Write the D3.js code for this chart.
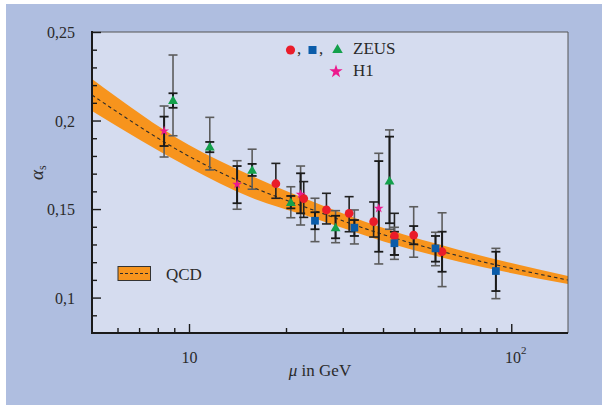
<!DOCTYPE html>
<html><head><meta charset="utf-8">
<script src="https://cdn.jsdelivr.net/npm/d3@7"></script>
<style>
html,body{margin:0;padding:0;background:#fff;}
svg{display:block;}
text{font-family:"Liberation Serif","Times New Roman",serif;fill:#2a2a2a;}
</style></head>
<body>
<svg id="chart" width="602" height="405"></svg>
<script>
// ---- data ----
// rows: [mu, alpha, outerLo, outerHi, innerLo, innerHi]
const zeusCircles = [
  [18.6, 0.1643, 0.1561, 0.1758, null, null],
  [22.7, 0.1559, 0.1453, 0.1655, null, null],
  [26.7, 0.1495, 0.1416, 0.1589, null, null],
  [31.4, 0.1476, 0.1372, 0.1570, null, null],
  [37.4, 0.1429, 0.1342, 0.1540, null, null],
  [43.4, 0.1348, 0.1241, 0.1476, null, null],
  [49.8, 0.1353, 0.1228, 0.1513, 0.1301, 0.1404],
  [61.0, 0.1259, 0.1062, 0.1479, 0.1146, 0.1372]
];
const zeusSquares = [
  [24.6, 0.1434, 0.1316, 0.1561, 0.1386, 0.1482],
  [32.6, 0.1395, 0.1303, 0.1495, 0.1348, 0.1438],
  [43.4, 0.1307, 0.1216, 0.1397, 0.1241, 0.1372],
  [58.2, 0.1278, 0.1180, 0.1369, 0.1203, 0.1348],
  [89.6, 0.1150, 0.0994, 0.1278, 0.1037, 0.1259]
];
const zeusTriangles = [
  [8.92, 0.2110, 0.1914, 0.2370, 0.2072, 0.2154],
  [11.6, 0.1847, 0.1721, 0.2018, 0.1821, 0.1879],
  [15.7, 0.1715, 0.1612, 0.1838, 0.1687, 0.1755],
  [20.7, 0.1533, 0.1451, 0.1626, 0.1504, 0.1574],
  [28.5, 0.1391, 0.1310, 0.1491, 0.1335, 0.1462],
  [41.9, 0.1655, 0.1386, 0.1947, 0.1420, 0.1909]
];
const h1Stars = [
  [8.37, 0.1941, 0.1794, 0.2082, 0.1856, 0.2022],
  [14.1, 0.1640, 0.1499, 0.1773, 0.1533, 0.1743],
  [22.2, 0.1583, 0.1410, 0.1743, 0.1476, 0.1702],
  [38.8, 0.1504, 0.1190, 0.1815, 0.1259, 0.1771]
];
// QCD band
const qcdMu     = [5,      10,     15.45,  22.8,   40.4,   68.9,   150];
const qcdCenter = [0.2144, 0.1798, 0.1630, 0.1513, 0.1354, 0.1235, 0.1099];
const qcdHigh   = [0.2235, 0.1862, 0.1692, 0.1561, 0.1391, 0.1269, 0.1122];
const qcdLow    = [0.2054, 0.1735, 0.1568, 0.1466, 0.1316, 0.1203, 0.1077];
// axes
const yMajorTicks = [0.1, 0.15, 0.2, 0.25];
const yMajorLabels = ["0,1", "0,15", "0,2", "0,25"];
const yMinorTicks = [0.09, 0.11, 0.12, 0.13, 0.14, 0.16, 0.17, 0.18, 0.19, 0.21, 0.22, 0.23, 0.24];
const xMajorTicks = [10, 100];
const xMinorTicks = [6, 7, 8, 9, 20, 30, 40, 50, 60, 70, 80, 90];

// ---- layout ----
const L = 92, T = 32, R = 568, B = 333;
const svg = d3.select("#chart");
const C = {outer:"#afbee0", plot:"#d5dcef", band:"#f7941d", red:"#ea1c2a", blue:"#0b5ca9", green:"#13a04b", pink:"#ec1a8d"};

svg.append("rect").attr("x",6).attr("y",4).attr("width",596).attr("height",401).attr("fill",C.outer);
svg.append("rect").attr("x",L).attr("y",T).attr("width",R-L).attr("height",B-T).attr("fill",C.plot);

const x = d3.scaleLog().domain([5,150]).range([L,R]);
const y = d3.scaleLinear().domain([0.08,0.25]).range([B,T]);

const g = svg.append("g");
// band
const bandData = qcdMu.map((m,i)=>({m, c:qcdCenter[i], hi:qcdHigh[i], lo:qcdLow[i]}));
g.append("path").datum(bandData)
  .attr("d", d3.area().x(d=>x(d.m)).y0(d=>y(d.lo)).y1(d=>y(d.hi)).curve(d3.curveMonotoneX))
  .attr("fill", C.band);
g.append("path").datum(bandData)
  .attr("d", d3.line().x(d=>x(d.m)).y(d=>y(d.c)).curve(d3.curveMonotoneX))
  .attr("fill","none").attr("stroke","#2b2b2b").attr("stroke-width",1.1).attr("stroke-dasharray","3.5,3");

// error bars
function drawErr(data){
  const eg = g.append("g");
  data.forEach(d=>{
    const cx = x(d[0]);
    const capW = 4.5;
    const oc = d[4]==null ? "#222" : "#5c5c5c";
    eg.append("line").attr("x1",cx).attr("x2",cx).attr("y1",y(d[2])).attr("y2",y(d[3]))
      .attr("stroke", oc).attr("stroke-width",1.6);
    [d[2],d[3]].forEach(v=>eg.append("line").attr("x1",cx-capW).attr("x2",cx+capW).attr("y1",y(v)).attr("y2",y(v))
      .attr("stroke", oc).attr("stroke-width",1.6));
    if(d[4]!=null){
      eg.append("line").attr("x1",cx).attr("x2",cx).attr("y1",y(d[4])).attr("y2",y(d[5]))
        .attr("stroke","#1a1a1a").attr("stroke-width",2);
      [d[4],d[5]].forEach(v=>eg.append("line").attr("x1",cx-capW).attr("x2",cx+capW).attr("y1",y(v)).attr("y2",y(v))
        .attr("stroke","#1a1a1a").attr("stroke-width",1.8));
    }
  });
}
[h1Stars, zeusTriangles, zeusCircles, zeusSquares].forEach(drawErr);

function drawMarks(data, type, size, color){
  g.append("g").selectAll("path").data(data).join("path")
    .attr("transform", d=>`translate(${x(d[0])},${y(d[1])})`)
    .attr("d", d3.symbol().type(type).size(size)())
    .attr("fill", color);
}
drawMarks(zeusTriangles, d3.symbolTriangle, 42, C.green);
drawMarks(h1Stars, d3.symbolStar, 30, C.pink);
drawMarks(zeusCircles, d3.symbolCircle, 60, C.red);
drawMarks(zeusSquares, d3.symbolSquare, 60, C.blue);

// frame
svg.append("line").attr("x1",L).attr("x2",R).attr("y1",T).attr("y2",T).attr("stroke","#555").attr("stroke-width",1);
svg.append("line").attr("x1",R).attr("x2",R).attr("y1",T).attr("y2",B).attr("stroke","#555").attr("stroke-width",1);

// axes
const yAxMinor = svg.append("g").attr("transform",`translate(${L},0)`)
  .call(d3.axisLeft(y).tickValues(yMinorTicks).tickSize(-5).tickFormat(""));
const yAxMajor = svg.append("g").attr("transform",`translate(${L},0)`)
  .call(d3.axisLeft(y).tickValues(yMajorTicks).tickSize(-9).tickPadding(17)
    .tickFormat(d=>yMajorLabels[yMajorTicks.indexOf(d)]));
const xAxMinor = svg.append("g").attr("transform",`translate(0,${B})`)
  .call(d3.axisBottom(x).tickValues(xMinorTicks).tickSize(-5).tickFormat(""));
const xAxMajor = svg.append("g").attr("transform",`translate(0,${B})`)
  .call(d3.axisBottom(x).tickValues(xMajorTicks).tickSize(-9).tickFormat(""));
[yAxMinor,yAxMajor,xAxMinor,xAxMajor].forEach(a=>{
  a.select(".domain").remove();
  a.selectAll(".tick line").attr("stroke","#1a1a1a").attr("stroke-width",1.4);
});
yAxMajor.selectAll(".tick text").attr("font-size",16).attr("fill","#2a2a2a")
  .attr("font-family","Liberation Serif, serif").attr("dy","0.36em");
// x labels
xAxMajor.selectAll(".tick").each(function(d){
  const t = d3.select(this).append("text").attr("y",30).attr("text-anchor","middle")
    .attr("font-size",16).attr("fill","#2a2a2a").attr("font-family","Liberation Serif, serif");
  if(d===10){ t.text("10"); }
  else { t.attr("x",4); t.append("tspan").text("10"); t.append("tspan").attr("dy",-9).attr("font-size",11).text("2"); }
});
// axis lines
svg.append("line").attr("x1",L).attr("x2",L).attr("y1",T-1).attr("y2",B+1).attr("stroke","#1a1a1a").attr("stroke-width",2);
svg.append("line").attr("x1",L-1).attr("x2",R).attr("y1",B).attr("y2",B).attr("stroke","#1a1a1a").attr("stroke-width",2);

// axis titles
const xt = svg.append("text").attr("x",320).attr("y",376).attr("text-anchor","middle").attr("font-size",17);
xt.append("tspan").attr("font-style","italic").text("μ");
xt.append("tspan").text(" in GeV");
const yt = svg.append("text").attr("transform","translate(43,180) rotate(-90)").attr("font-size",19);
yt.append("tspan").attr("font-style","italic").text("α");
yt.append("tspan").attr("font-size",12).attr("dy",3).text("s");

// legend top
const lg = svg.append("g");
lg.append("path").attr("transform","translate(290.5,50)").attr("d",d3.symbol().type(d3.symbolCircle).size(66)()).attr("fill",C.red);
lg.append("text").attr("x",297).attr("y",54).attr("font-size",17).text(",");
lg.append("path").attr("transform","translate(312.5,50)").attr("d",d3.symbol().type(d3.symbolSquare).size(64)()).attr("fill",C.blue);
lg.append("text").attr("x",319).attr("y",54).attr("font-size",17).text(",");
lg.append("path").attr("transform","translate(337.5,50)").attr("d",d3.symbol().type(d3.symbolTriangle).size(48)()).attr("fill",C.green);
lg.append("text").attr("x",353).attr("y",54).attr("font-size",17).text("ZEUS");
lg.append("path").attr("transform","translate(336,71.5)").attr("d",d3.symbol().type(d3.symbolStar).size(55)()).attr("fill",C.pink);
lg.append("text").attr("x",353).attr("y",76).attr("font-size",17).text("H1");

// legend QCD
lg.append("rect").attr("x",118).attr("y",266.5).attr("width",32.5).attr("height",14).attr("fill",C.band).attr("stroke","#333").attr("stroke-width",1);
lg.append("line").attr("x1",120).attr("x2",149).attr("y1",273.5).attr("y2",273.5).attr("stroke","#2b2b2b").attr("stroke-width",1).attr("stroke-dasharray","3,2");
lg.append("text").attr("x",166).attr("y",280).attr("font-size",17).text("QCD");
</script>
</body></html>
